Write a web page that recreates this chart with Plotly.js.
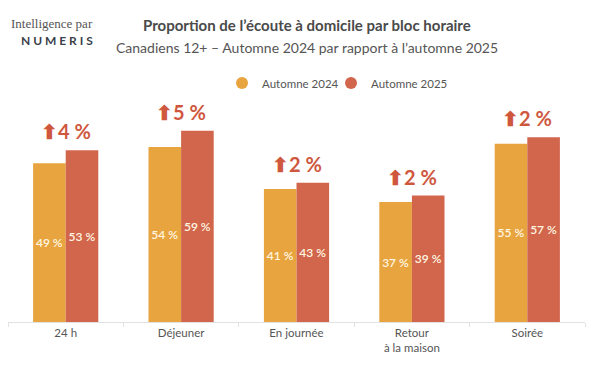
<!DOCTYPE html>
<html>
<head>
<meta charset="utf-8">
<script src="https://cdn.plot.ly/plotly-3.0.1.min.js"></script>
<style>html,body{margin:0;padding:0;background:#fff;}#chart{width:600px;height:372px;}</style>
</head>
<body>
<div id="chart"></div>
<script>
const categories = ["24 h", "Déjeuner", "En journée", "Retour<br>à la maison", "Soirée"];
const automne2024 = [49, 54, 41, 37, 55];
const automne2025 = [53, 59, 43, 39, 57];
const changes = ["4", "5", "2", "2", "2"];
const seriesNames = ["Automne 2024", "Automne 2025"];
const colors = ["#E8A43E", "#D1664D"];

const FONT = "Lato, 'Open Sans', sans-serif";

const barTrace = (vals, name, color) => ({
  type: "bar",
  x: categories,
  y: vals,
  name: name,
  showlegend: false,
  marker: {color: color},
  text: vals.map(v => v + " %"),
  textposition: "inside",
  insidetextanchor: "middle",
  textangle: 0,
  constraintext: "none",
  textfont: {family: FONT, size: 12, color: "#FFF6E0", weight: 600},
  hoverinfo: "skip"
});

const legendTrace = (name, color, legendId) => ({
  type: "scatter",
  mode: "markers",
  x: [null], y: [null],
  name: name,
  legend: legendId,
  marker: {color: color, size: 15, symbol: "circle"},
  showlegend: true,
  hoverinfo: "skip"
});

const data = [
  barTrace(automne2024, seriesNames[0], colors[0]),
  barTrace(automne2025, seriesNames[1], colors[1]),
  legendTrace(seriesNames[0], colors[0], "legend"),
  legendTrace(seriesNames[1], colors[1], "legend2")
];

const annotations = categories.map((c, i) => ({
  x: c,
  y: Math.max(automne2024[i], automne2025[i]),
  xref: "x", yref: "y",
  text: "<b>⬆" + changes[i] + " %</b>",
  showarrow: false,
  yanchor: "bottom",
  yshift: 5,
  font: {family: FONT, size: 20, color: "#CF573E"}
}));

annotations.push(
  {xref: "paper", yref: "paper", x: (307 - 8) / 577, y: 1 + (100 - 25) / 222, yanchor: "middle", xanchor: "center",
   text: "<b>Proportion de l’écoute à domicile par bloc horaire</b>", showarrow: false,
   font: {family: FONT, size: 15, color: "#4A4A4A"}},
  {xref: "paper", yref: "paper", x: (307 - 8) / 577, y: 1 + (100 - 47) / 222, yanchor: "middle", xanchor: "center",
   text: "Canadiens 12+ – Automne 2024 par rapport à l’automne 2025", showarrow: false,
   font: {family: FONT, size: 14, color: "#555555"}},
  {xref: "paper", yref: "paper", x: (52 - 8) / 577, y: 1 + (100 - 24) / 222, yanchor: "middle", xanchor: "center",
   text: "Intelligence par", showarrow: false,
   font: {family: "'Liberation Serif', 'DejaVu Serif', serif", size: 13, color: "#555555"}},
  {xref: "paper", yref: "paper", x: (57 - 8) / 577, y: 1 + (100 - 40) / 222, yanchor: "middle", xanchor: "center",
   text: "<b>N U M E R I S</b>", showarrow: false,
   font: {family: FONT, size: 12, color: "#3A3F4A"}}
);

const legendStyle = (leftPx) => ({
  orientation: "h",
  x: (leftPx - 8) / 577, xanchor: "left",
  y: 1 + 17 / 222, yanchor: "middle",
  font: {family: FONT, size: 11.5, color: "#555555"},
  itemsizing: "constant",
  bgcolor: "rgba(0,0,0,0)"
});

const layout = {
  width: 600, height: 372,
  margin: {l: 8, r: 15, t: 100, b: 50},
  paper_bgcolor: "#FFFFFF",
  plot_bgcolor: "#FFFFFF",
  barmode: "group",
  bargap: 0.435,
  bargroupgap: 0,
  font: {family: FONT, color: "#555555"},
  xaxis: {
    type: "category",
    showline: true, linecolor: "#E2E2E2", linewidth: 1,
    ticks: "outside", tickson: "boundaries", ticklen: 4, tickcolor: "#E2E2E2",
    tickfont: {family: FONT, size: 11.5, color: "#555555"},
    showgrid: false, fixedrange: true
  },
  yaxis: {
    range: [0, 68.5],
    visible: false, showgrid: false, zeroline: false, fixedrange: true
  },
  showlegend: true,
  legend: legendStyle(222),
  legend2: legendStyle(331),
  annotations: annotations
};

Plotly.newPlot("chart", data, layout, {displayModeBar: false, staticPlot: true});
</script>
</body>
</html>
